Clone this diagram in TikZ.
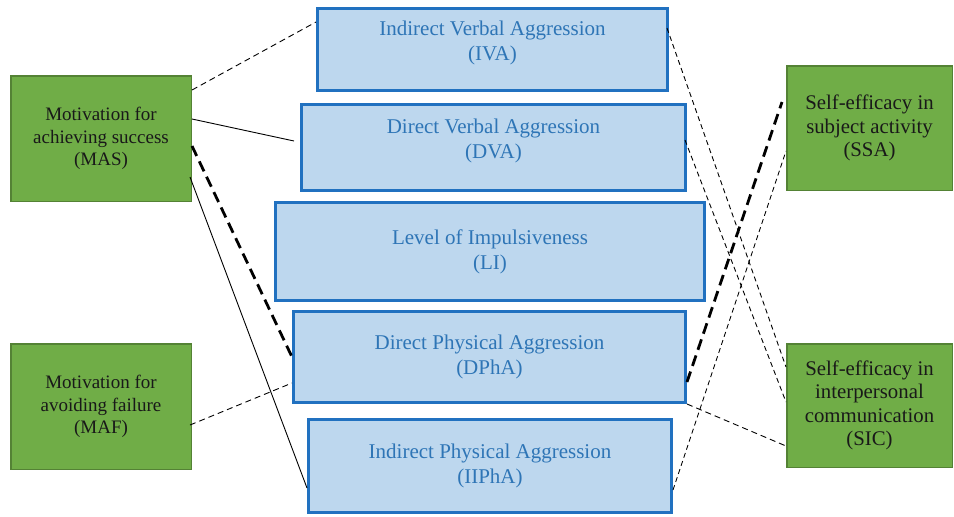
\documentclass[tikz,border=0pt]{standalone}
\usepackage{fontspec}
\setmainfont{Liberation Serif}
\definecolor{boxgreen}{RGB}{112,173,71}
\definecolor{greenline}{RGB}{84,130,53}
\definecolor{boxblue}{RGB}{189,215,238}
\definecolor{blueline}{RGB}{33,113,192}
\definecolor{bluetext}{RGB}{46,117,182}
\begin{document}
\begin{tikzpicture}[x=1pt,y=-1pt,
	motive/.style={draw=greenline, line width=1.5pt, fill=boxgreen, text=black!90, inner sep=0pt, align=center, font=\fontsize{19}{22.5}\selectfont},
	efficacy/.style={motive, font=\fontsize{20.8}{23.5}\selectfont},
	aggr/.style={draw=blueline, line width=3pt, fill=boxblue, text=bluetext, inner sep=0pt, align=center, font=\fontsize{21}{25}\selectfont},
	link/.style={line width=0.9pt},
	dashlink/.style={line width=0.9pt, dash pattern=on 6pt off 4pt},
	finelink/.style={line width=0.9pt, dash pattern=on 5pt off 3.5pt},
	boldlink/.style={line width=2.8pt, dash pattern=on 11pt off 6pt}]
	\useasboundingbox (0,0) rectangle (954,517);
	
	\node[aggr, minimum width=350pt, minimum height=82pt, text depth=17pt] (iva) at (492.5,49.5) {Indirect Verbal Aggression\\(IVA)};
	\node[aggr, minimum width=384pt, minimum height=86pt, text depth=17pt] (dva) at (493.5,147.5) {Direct Verbal Aggression\\(DVA)};
	\node[aggr, minimum width=429pt, minimum height=98pt] (li) at (490,251.5) {Level of Impulsiveness\\(LI)};
	\node[aggr, minimum width=392pt, minimum height=91pt] (dpha) at (489.5,357) {Direct Physical Aggression\\(DPhA)};
	\node[aggr, minimum width=363pt, minimum height=93pt] (iipha) at (490,466) {Indirect Physical Aggression\\(IIPhA)};
	
	\node[motive, minimum width=180.5pt, minimum height=125.5pt] (mas) at (101,138.5) {Motivation for\\achieving success\\(MAS)};
	\node[motive, minimum width=180.5pt, minimum height=125.5pt] (maf) at (101,406.5) {Motivation for\\avoiding failure\\(MAF)};
	\node[efficacy, minimum width=165.5pt, minimum height=124.5pt] (ssa) at (869.5,128) {Self-efficacy in\\subject activity\\(SSA)};
	\node[efficacy, minimum width=165.5pt, minimum height=123.5pt] (sic) at (869.5,405.5) {Self-efficacy in\\interpersonal\\communication\\(SIC)};
	
	% left side
	\draw[dashlink] ([yshift=-15pt]mas.north east) -- ([yshift=-15pt]iva.north west);
	\draw[link] ([yshift=-44pt]mas.north east) -- ([xshift=-6pt,yshift=-38pt]dva.north west);
	\draw[boldlink] ([yshift=-71pt]mas.north east) -- ([yshift=-47pt]dpha.north west);
	\draw[link] ([xshift=-2pt,yshift=25pt]mas.south east) -- ([yshift=-70pt]iipha.north west);
	\draw[dashlink] ([xshift=-2pt,yshift=-82pt]maf.north east) -- ([yshift=-73pt]dpha.north west);
	
	% right side
	\draw[finelink] ([xshift=-2pt,yshift=-21pt]iva.north east) -- ([yshift=-24pt]sic.north west);
	\draw[finelink] ([xshift=-2pt,yshift=-37pt]dva.north east) -- ([yshift=-59pt]sic.north west);
	\draw[boldlink] ([yshift=-72pt]dpha.north east) -- ([xshift=-4pt,yshift=-37pt]ssa.north west);
	\draw[finelink] ([yshift=-72pt]iipha.north east) -- ([yshift=-86pt]ssa.north west);
	\draw[dashlink] (dpha.south east) -- ([yshift=-103pt]sic.north west);
\end{tikzpicture}
\end{document}
